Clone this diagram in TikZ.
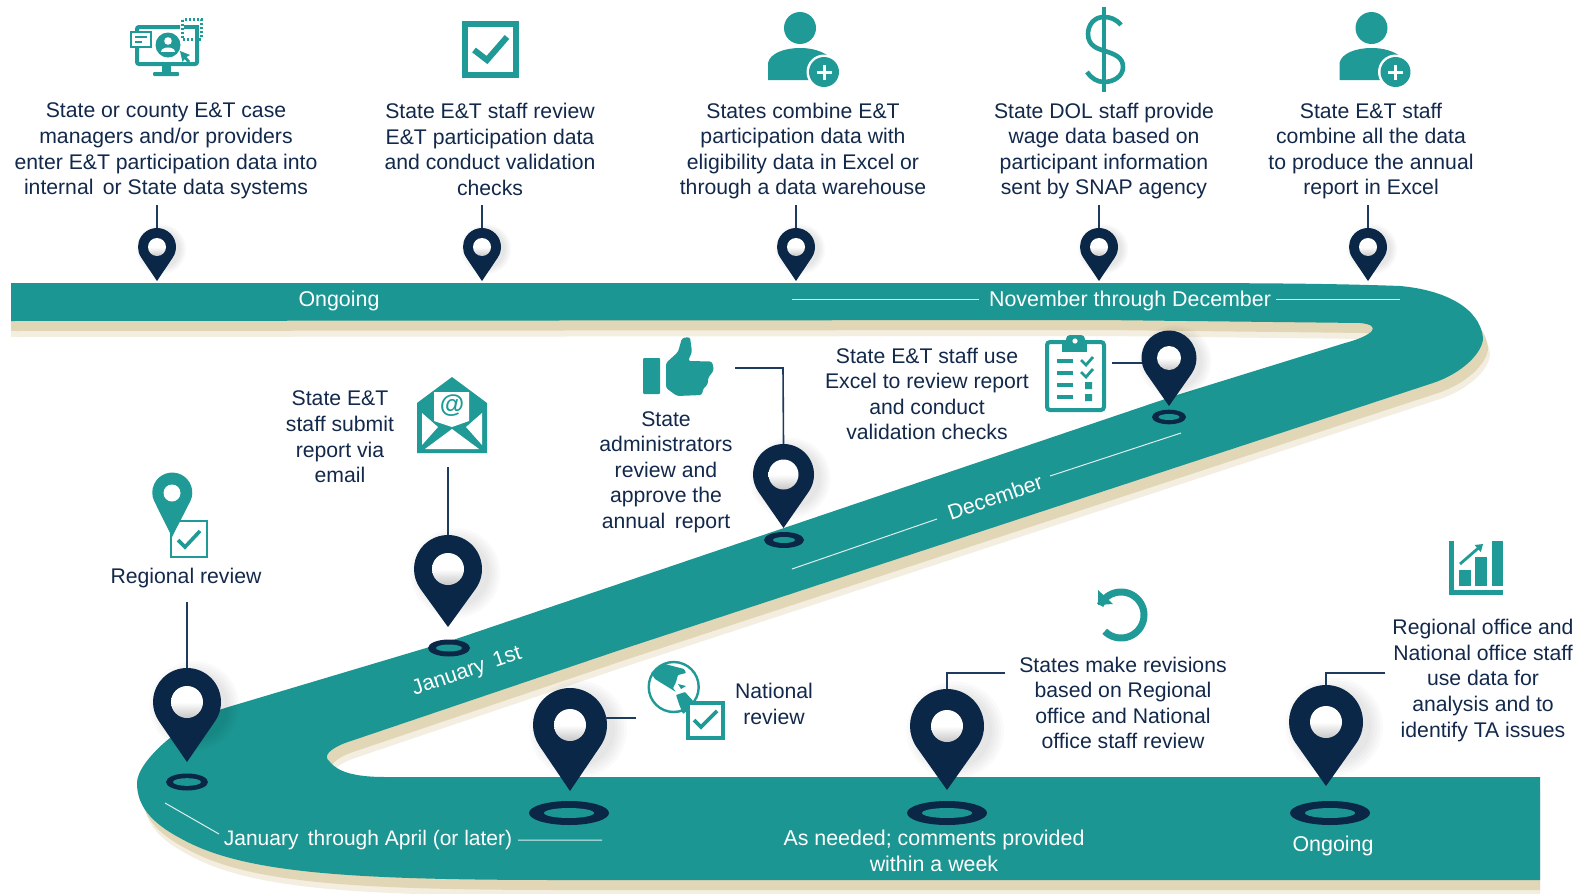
\documentclass[tikz,border=0pt]{standalone}
\usepackage{fontspec}
\setmainfont{Liberation Sans}
\usetikzlibrary{arrows.meta}
\definecolor{roadteal}{HTML}{1C9692}
\definecolor{icoteal}{HTML}{1F9A96}
\definecolor{navy}{HTML}{0B2747}
\definecolor{leadc}{HTML}{1E3A5F}
\definecolor{txtc}{HTML}{13294B}
\definecolor{beigeA}{HTML}{E1D6B6}
\definecolor{beigeB}{HTML}{F3EEDF}
\newcommand\roadpath{(11,283) -- (1100,283) .. controls (1230,283) and (1320,283) .. (1400,286)
  .. controls (1445,290) and (1480,308) .. (1483,338)
  .. controls (1483,352) and (1463,373) .. (1433,383)
  -- (620,650) -- (345,743)
  .. controls (330,749) and (322,756) .. (330,762)
  .. controls (338,772) and (355,777) .. (385,777)
  -- (1540,777) -- (1540,880) -- (560,880)
  .. controls (340,880) and (240,872) .. (180,838)
  .. controls (150,822) and (137,805) .. (137,783)
  .. controls (137,762) and (180,722) .. (225,708)
  -- (453,640) -- (1177,395) -- (1345,343)
  .. controls (1375,335) and (1382,325) .. (1360,323)
  -- (1100,320) -- (11,321) -- cycle}
% name, cx, cy, r, tip y, white radius
\newcommand\pinmark[6]{%
  \pgfmathsetmacro\pa{acos(#4/(#5-#3))}%
  \pgfmathsetmacro\sa{\pa-90}\pgfmathsetmacro\ea{270-\pa}%
  \pgfmathsetmacro\px{#2+#4*sin(\pa)}\pgfmathsetmacro\py{#3+#4*cos(\pa)}%
  \foreach \k in {1.0,1.08,1.16,1.24,1.32}{\fill[black,opacity=.018] ({#2+.22*#4},{#3+.12*#4}) circle[radius=\k*#4 pt];}%
  \fill[navy] (\px,\py) arc[start angle=\sa,end angle=\ea,radius=#4 pt] -- (#2,#5) -- cycle;
  \shade[top color=white,bottom color=black!22,middle color=white] (#2,#3) circle[radius=#6 pt];
  \coordinate (#1) at (#2,#3-#4);
}
% name, cx, cy, rx, ry, inner rx, inner ry
\newcommand\ringmark[7]{%
  \fill[navy] (#2,#3) ellipse[x radius=#4 pt,y radius=#5 pt];
  \fill[roadteal] (#2,#3) ellipse[x radius=#6 pt,y radius=#7 pt];
  \coordinate (#1) at (#2,#3);
}
% person-plus icon, offset x
\newcommand\personicon[1]{%
  \begin{scope}[xshift=#1 pt]
  \fill[icoteal] (800,28) circle[radius=16pt];
  \fill[icoteal] (768,80) -- (768,63) .. controls (770,53) and (785,48) .. (800,48)
     .. controls (812,48) and (822,51) .. (830,57) -- (830,80) -- cycle;
  \fill[white] (824,72) circle[radius=17.5pt];
  \fill[icoteal] (824,72) circle[radius=15pt];
  \draw[white,line width=3pt] (816.5,72) -- (831.5,72) (824,64.5) -- (824,79.5);
  \end{scope}
}
\tikzset{
  body/.style={font=\fontsize{21.2}{25.6}\selectfont,text=txtc,align=center,inner sep=0pt},
  roadtext/.style={font=\fontsize{21.4}{25.6}\selectfont,text=white,align=center,inner sep=0pt},
  lead/.style={draw=leadc,line width=1.6pt},
  roadline/.style={draw=white!85!roadteal,line width=1pt},
  ico/.style={icoteal},
  icoline/.style={draw=icoteal,line width=4pt}
}
\begin{document}
\begin{tikzpicture}[x=1pt,y=-1pt]
\useasboundingbox (0,0) rectangle (1580,894);
\fill[white] (0,0) rectangle (1580,894);
% road
\begin{scope}
\clip (0,0) rectangle (1540,894);
\fill[beigeB,shift={(7,16)}] \roadpath;
\fill[beigeB] (11,321) rectangle (24,337);
\fill[beigeA,shift={(5,10)}] \roadpath;
\fill[beigeA] (11,321) rectangle (24,331);
\end{scope}
\fill[roadteal] \roadpath;

% road captions
\node[roadtext] (capA) at (339,301) {Ongoing};
\node[roadtext] (capB) at (1130,301) {November through December};
\coordinate (capBl) at (792,299); \coordinate (capBla) at (979,299);
\coordinate (capBr) at (1276,299); \coordinate (capBra) at (1400,299);
\draw[roadline] (capBl) -- (capBla) (capBr) -- (capBra);
\node[roadtext,rotate=19] (capC) at (995,497) {December};
\coordinate (capCa) at (792,569); \coordinate (capCb) at (937,519);
\coordinate (capCc) at (1050,476); \coordinate (capCd) at (1181,433);
\draw[roadline] (capCa) -- (capCb) (capCc) -- (capCd);
\node[roadtext,rotate=19] (capD) at (467,672) {January\, 1st};
\node[roadtext,font=\fontsize{21}{25.6}\selectfont] (capE) at (368,840) {January\, through April (or later)};
\coordinate (capEa) at (165,803); \coordinate (capEb) at (219,834);
\coordinate (capEc) at (518,840); \coordinate (capEd) at (602,840);
\draw[roadline] (capEa) -- (capEb) (capEc) -- (capEd);
\node[roadtext] (capF) at (934,851) {As needed; comments provided\\within a week};
\node[roadtext] (capG) at (1333,846) {Ongoing};

% top text
\node[body] (t1) at (166,151) {State or county E\&T case\\managers and/or providers\\enter E\&T participation data into\\internal\, or State data systems};
\node[body] (t2) at (490,149.5) {State E\&T staff review\\E\&T participation data\\and conduct validation\\checks};
\node[body] (t3) at (803,151) {States combine E\&T\\participation data with\\eligibility data in Excel or\\through a data warehouse};
\node[body] (t4) at (1104,151) {State DOL staff provide\\wage data based on\\participant information\\sent by SNAP agency};
\node[body] (t5) at (1371,151) {State E\&T staff\\combine all the data\\to produce the annual\\report in Excel};
% middle text
\node[body] (t6) at (927,394) {State E\&T staff use\\Excel to review report\\and conduct\\validation checks};
\node[body] (t7) at (666,472) {State\\administrators\\review and\\approve the\\annual\, report};
\node[body] (t8) at (340,437) {State E\&T\\staff submit\\report via\\email};
\node[body] (t9) at (186,578) {Regional review};
\node[body] (t10) at (774,704) {National\\review};
\node[body] (t11) at (1123,703) {States make revisions\\based on Regional\\office and National\\office staff review};
\node[body] (t12) at (1483,680.5) {Regional office and\\National office staff\\use data for\\analysis and to\\identify TA issues};

% leads free ends
\coordinate (l1) at (157,205); \coordinate (l2) at (482,205); \coordinate (l3) at (796,205);
\coordinate (l4) at (1099,205); \coordinate (l5) at (1368,205);
\coordinate (l6) at (1112,363); \coordinate (l7a) at (735,368); \coordinate (l7b) at (783,368);
\coordinate (l8) at (448,467); \coordinate (l9) at (187,602); \coordinate (l10) at (636,718);
\coordinate (l11a) at (1005,673); \coordinate (l11b) at (947,673);
\coordinate (l12a) at (1385,673); \coordinate (l12b) at (1326,673);

% ground rings
\ringmark{r6}{1169}{417}{17}{7.3}{10.5}{3}
\ringmark{r7}{784}{540}{20}{8}{11}{3}
\ringmark{r8}{449}{648}{21}{8.5}{13}{3.5}
\ringmark{r9}{187}{782}{21}{8.5}{14}{3.8}
\ringmark{r10}{569}{813}{40}{12}{25}{5}
\ringmark{r11}{947}{813}{40}{12}{25}{5}
\ringmark{r12}{1330}{813}{40}{12}{25}{5}

% pins
\pinmark{p1}{157}{247}{19}{281}{9}
\pinmark{p2}{482}{247}{19}{281}{9}
\pinmark{p3}{796}{247}{19}{281}{9}
\pinmark{p4}{1099}{247}{19}{281}{9}
\pinmark{p5}{1368}{247}{19}{281}{9}
\pinmark{p6}{1169}{358}{27.5}{406}{12}
\pinmark{p7}{783.5}{474.5}{30.5}{528}{15}
\pinmark{p8}{448}{569}{34}{627}{16}
\pinmark{p9}{187}{702}{34}{762}{16}
\pinmark{p10}{570}{725}{37}{791}{16}
\pinmark{p11}{947}{726}{37}{790}{16}
\pinmark{p12}{1326}{722}{37}{786}{16}

\draw[lead] (l1) -- (p1); \draw[lead] (l2) -- (p2); \draw[lead] (l3) -- (p3);
\draw[lead] (l4) -- (p4); \draw[lead] (l5) -- (p5);
\draw[lead] (l6) -- (1142,363);
\draw[lead] (l7a) -- (l7b) -- (p7);
\draw[lead] (l8) -- (p8); \draw[lead] (l9) -- (p9);
\draw[lead] (l10) -- (605,718);
\draw[lead] (l11a) -- (l11b) -- (p11);
\draw[lead] (l12a) -- (l12b) -- (p12);

% ---------- icons ----------
% computer
\draw[icoline,rounded corners=2pt] (137,50) -- (137,27) -- (180,27);
\draw[icoline,rounded corners=2pt] (137,47) -- (137,64) -- (197,64) -- (197,38);
\draw[icoline,line width=3.5pt] (184,27) -- (197,27) -- (197,38);
\draw[draw=icoteal,line width=3pt,dash pattern=on 2pt off 2pt] (182.5,19.5) rectangle (201,39);
\fill[ico] (162,64) rectangle (171,72);
\fill[ico,rounded corners=1pt] (153,72) rectangle (179,76);
\draw[draw=icoteal,line width=2.6pt,fill=white] (131,32) rectangle (151,47);
\draw[draw=icoteal,line width=1.8pt] (135,37) -- (147,37) (135,42) -- (142,42);
\fill[ico] (168,45) circle[radius=12.5pt];
\fill[white] (168,41) circle[radius=3.8pt];
\fill[white] (161,52) .. controls (161,46) and (175,46) .. (175,52) -- cycle;
\fill[ico] (180,51) -- (190,55) -- (186.5,57) -- (190,61) -- (188,63) -- (184.5,59) -- (182.5,62) -- cycle;
% checkbox 2
\draw[draw=icoteal,line width=5.5pt] (465,24) rectangle (516,75);
\draw[draw=icoteal,line width=6pt] (474,50) -- (487,60) -- (507,37);
% persons
\personicon{0}
\personicon{571.5}
% dollar
\draw[draw=icoteal,line width=4.6pt] (1104,7) -- (1104,92);
\draw[draw=icoteal,line width=4.6pt] (1121,25) .. controls (1116,19) and (1110,17) .. (1104,17)
  .. controls (1094,17) and (1088,25) .. (1088,34)
  .. controls (1088,46) and (1098,49) .. (1105,51)
  .. controls (1114,54) and (1123,57) .. (1123,67)
  .. controls (1123,76) and (1114,82) .. (1104,82)
  .. controls (1097,82) and (1091,78) .. (1087,72);
% clipboard
\draw[draw=icoteal,line width=4pt,rounded corners=3pt] (1047,342) rectangle (1104,410);
\fill[ico] (1062,342) rectangle (1087,352);
\fill[ico,rounded corners=4pt] (1066,335) rectangle (1085,348);
\fill[white] (1075,341) circle[radius=2.6pt];
\draw[draw=icoteal,line width=3.4pt] (1057,361) -- (1073,361) (1057,373) -- (1073,373) (1057,385) -- (1073,385) (1057,397) -- (1073,397);
\draw[draw=icoteal,line width=2.8pt] (1081,360) -- (1086,365) -- (1093,357) (1081,372) -- (1086,377) -- (1093,369);
\fill[ico] (1085,382) rectangle (1092,389) (1085,394) rectangle (1092,401);
% thumb
\fill[ico,rounded corners=1pt] (643,358) rectangle (660,394);
\fill[ico,rounded corners=2.5pt] (666,363) -- (678,352) -- (682,338) -- (690,337) -- (692,352) -- (688,361)
  -- (712,361.5) -- (714,370) -- (708,378) -- (708,384) -- (703,389) -- (702,395) -- (677,396) -- (666,388) -- cycle;
% envelope
\fill[ico] (417,403) -- (452,377) -- (487,403) -- (487,453) -- (417,453) -- cycle;
\fill[white] (434,392) -- (469,392) -- (469,421) -- (452,427) -- (434,421) -- cycle;
\fill[white] (422,413) -- (438,427) -- (422,445) -- cycle;
\fill[white] (482,413) -- (466,427) -- (482,445) -- cycle;
\fill[white] (425,449) -- (452,429) -- (479,449) -- cycle;
\node[inner sep=0pt,text=icoteal,font=\fontsize{25}{25}\selectfont\bfseries] (at) at (452,406) {@};
% regional pin + check
\draw[draw=icoteal,line width=2.8pt,fill=white] (171,521) rectangle (207,557);
\draw[draw=icoteal,line width=3.6pt] (178,540) -- (185,547) -- (200,531);
\fill[ico] (190.4,501) arc[start angle=-25,end angle=205,radius=20pt] -- (172,537) -- cycle;
\fill[white] (172,493) circle[radius=8.5pt];
% globe
\draw[draw=icoteal,line width=2.4pt] (673.7,687) circle[radius=25pt];
\fill[ico,rounded corners=.7pt] (651,673) -- (658,667) -- (665,664) -- (684,669) -- (686,673) -- (678,675) -- (676,682) -- (673,688) -- (676,692) -- (663,684) -- (655,679) -- cycle;
\fill[ico,rounded corners=.7pt] (676,695) -- (685,692) -- (694,702) -- (688,710) -- (683,714) -- (679,704) -- cycle;
\fill[ico] (678,684) -- (686,686) -- (681,689) -- cycle;
\draw[draw=icoteal,line width=3.6pt,fill=white] (688,703) rectangle (723,738);
\draw[draw=icoteal,line width=3.6pt] (694,720) -- (701,727) -- (717,711);
% refresh
\draw[draw=icoteal,line width=7pt] plot[domain=135:-155,samples=50] ({1121+23*cos(\x)},{615+23*sin(\x)});
\fill[ico] (1098,590) -- (1098,605) -- (1113,604) -- cycle;
% chart
\fill[ico] (1449,541) rectangle (1454,595);
\fill[ico] (1449,590) rectangle (1503,595);
\fill[ico] (1459,570) rectangle (1471,586);
\fill[ico] (1475,557) rectangle (1487,586);
\fill[ico] (1492,541) rectangle (1503,586);
\draw[draw=icoteal,line width=2.8pt,-{Triangle[length=7pt,width=9pt]}] (1460,564) -- (1483,544);
\end{tikzpicture}
\end{document}
